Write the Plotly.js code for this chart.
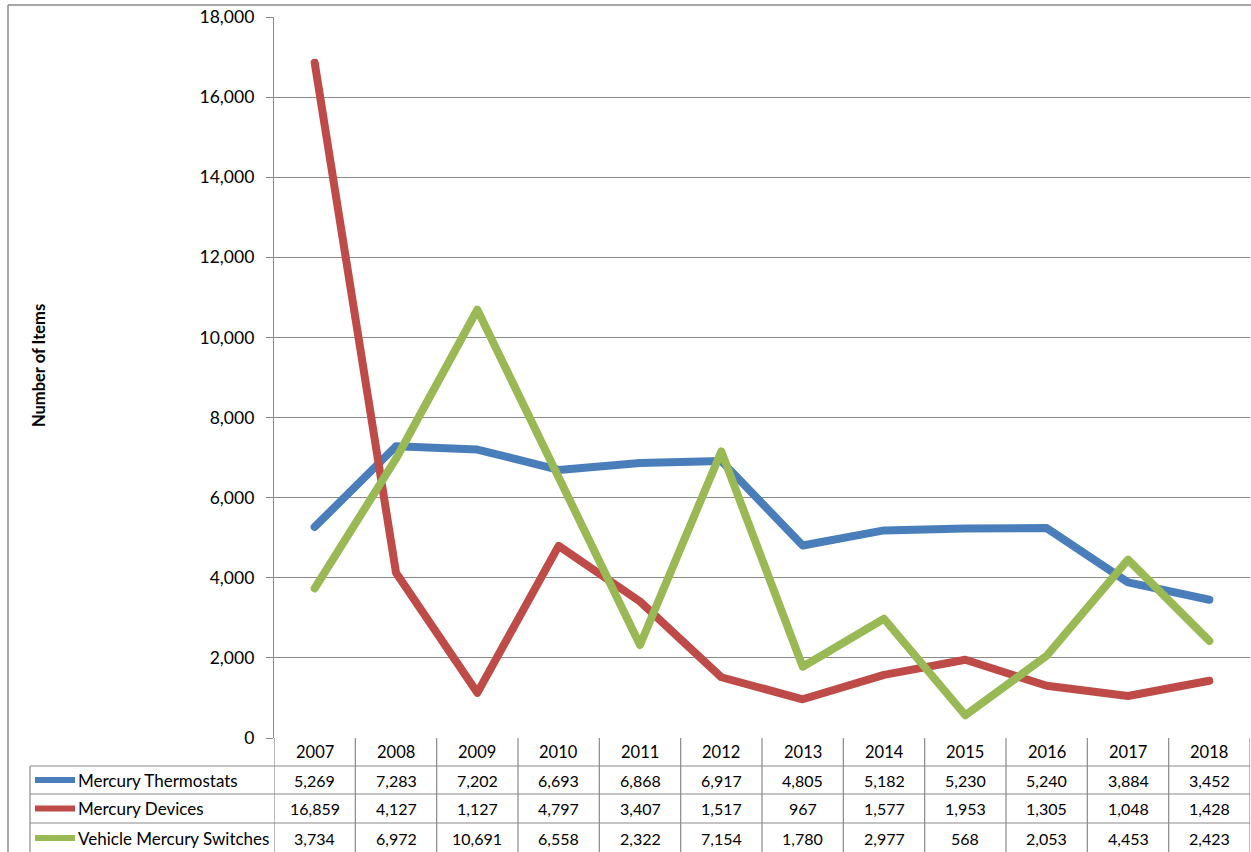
<!DOCTYPE html>
<html><head><meta charset="utf-8">
<script src="https://cdn.plot.ly/plotly-3.0.1.min.js"></script>
<style>html,body{margin:0;padding:0;background:#fff}
.js-line{stroke-linecap:round !important;stroke-linejoin:round !important}</style>
</head><body><div id="chart" style="width:1251px;height:852px"></div>
<script>
const years = ['2007','2008','2009','2010','2011','2012','2013','2014','2015','2016','2017','2018'];
const seriesNames = ['Mercury Thermostats','Mercury Devices','Vehicle Mercury Switches'];
const thermostats = [5269,7283,7202,6693,6868,6917,4805,5182,5230,5240,3884,3452];
const devices = [16859,4127,1127,4797,3407,1517,967,1577,1953,1305,1048,1428];
const switches = [3734,6972,10691,6558,2322,7154,1780,2977,568,2053,4453,2423];
const yTickValues = [0,2000,4000,6000,8000,10000,12000,14000,16000,18000];
const yTitle = 'Number of Items';

const seriesData = [thermostats, devices, switches];
const colors = ['#4A7EBB','#BE4B48','#98B954'];

const W = 1251, H = 852, L = 274, R = 1250, T = 17, B = 738;
const px = x => (x - L) / (R - L);
const py = y => (B - y) / (B - T);
const FONT = 'Lato, "Open Sans", sans-serif';
const grid = '#8a8a8a';

const idx = years.map((_, i) => i);
const traces = seriesData.map((d, k) => ({
  type: 'scatter', mode: 'lines', x: idx, y: d, name: seriesNames[k],
  line: {color: colors[k], width: 8}, hoverinfo: 'x+y'
}));

const shapes = [];
const annotations = [];
// horizontal table lines
[766, 794, 823].forEach(y => shapes.push({type:'line', xref:'paper', yref:'paper', x0:px(30), x1:px(1250), y0:py(y), y1:py(y), line:{color:grid, width:1.2}}));
// vertical column boundaries
for (let i = 0; i <= years.length; i++) {
  shapes.push({type:'line', xref:'x', yref:'paper', x0:i-0.5, x1:i-0.5, y0:py(738), y1:py(852), line:{color:grid, width:1.2}});
}
// left border of label column
shapes.push({type:'line', xref:'paper', yref:'paper', x0:px(30), x1:px(30), y0:py(766), y1:py(852), line:{color:grid, width:1.2}});
// outer chart border
shapes.push({type:'line', xref:'paper', yref:'paper', x0:px(8), x1:px(1251), y0:py(5), y1:py(5), line:{color:grid, width:1.5}});
shapes.push({type:'line', xref:'paper', yref:'paper', x0:px(8), x1:px(8), y0:py(5), y1:py(852), line:{color:grid, width:1.5}});

// header years
years.forEach((yr, i) => annotations.push({xref:'x', yref:'paper', x:i, y:py(752), text:yr, showarrow:false, font:{family:FONT, size:16.5, color:'#000'}, xanchor:'center', yanchor:'middle'}));
// rows
const rowCenters = [780, 808.5, 838];
seriesData.forEach((d, k) => {
  const yc = rowCenters[k];
  shapes.push({type:'line', xref:'paper', yref:'paper', x0:px(35), x1:px(75), y0:py(yc), y1:py(yc), line:{color:colors[k], width:6}});
  annotations.push({xref:'paper', yref:'paper', x:px(76), y:py(yc), text:seriesNames[k], showarrow:false, font:{family:FONT, size:17, color:'#000'}, xanchor:'left', yanchor:'middle'});
  d.forEach((v, i) => annotations.push({xref:'x', yref:'paper', x:i, y:py(yc), text:v.toLocaleString('en-US'), showarrow:false, font:{family:FONT, size:16, color:'#000'}, xanchor:'center', yanchor:'middle'}));
});
// y axis title
annotations.push({xref:'paper', yref:'paper', x:px(39), y:py(366), text:'<b>'+yTitle+'</b>', textangle:-90, showarrow:false, font:{family:FONT, size:16.5, color:'#000'}, xanchor:'center', yanchor:'middle'});

const layout = {
  width: W, height: H,
  margin: {l: L, r: W - R, t: T, b: H - B, pad: 0},
  paper_bgcolor: '#fff', plot_bgcolor: '#fff',
  showlegend: false,
  font: {family: FONT, color: '#000'},
  xaxis: {range: [-0.5, years.length - 0.5], showticklabels: false, showgrid: false, zeroline: false, showline: false, ticks: '', fixedrange: true},
  yaxis: {range: [0, 18000], tickvals: yTickValues, ticktext: yTickValues.map(v => v.toLocaleString('en-US')),
    showgrid: true, gridcolor: grid, gridwidth: 1.2, zeroline: false, showline: true, linecolor: grid, linewidth: 1.2,
    ticks: 'outside', ticklen: 7, tickcolor: grid, ticklabelstandoff: 8, tickfont: {family: FONT, size: 17.5, color: '#000'}, fixedrange: true},
  shapes: shapes, annotations: annotations
};

Plotly.newPlot('chart', traces, layout, {displayModeBar: false, staticPlot: true});
</script></body></html>
